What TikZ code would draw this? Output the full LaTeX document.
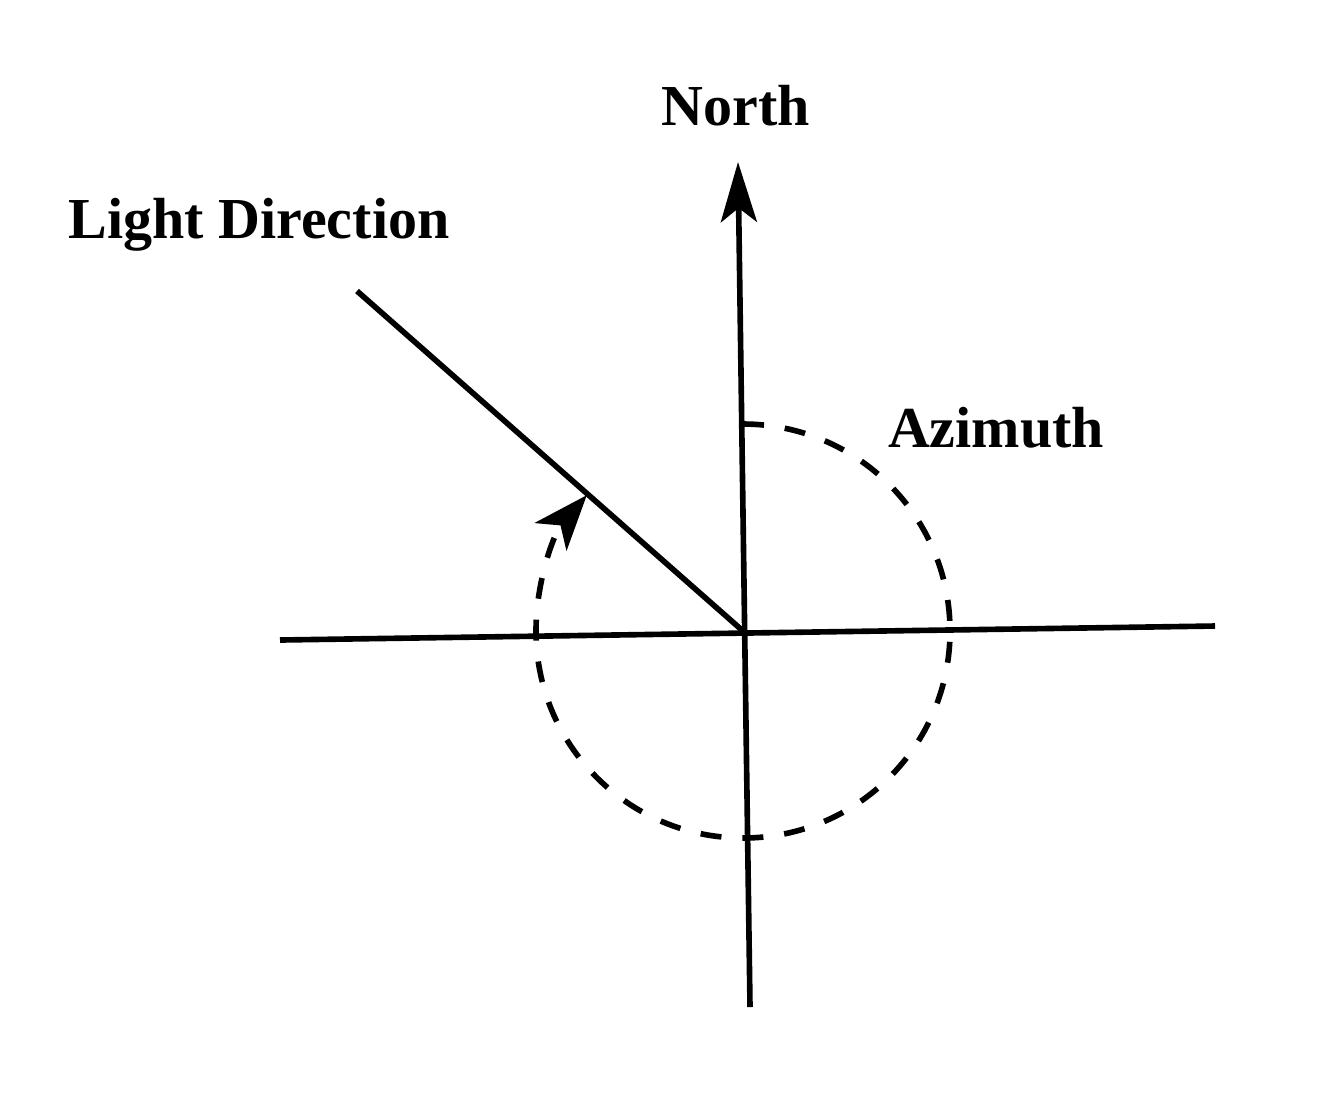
\documentclass[tikz,border=0pt]{standalone}
\usepackage{fontspec}
\setmainfont{Liberation Serif}
\usetikzlibrary{arrows.meta}

\begin{document}
\begin{tikzpicture}[line width=1.6pt,
	lbl/.style={font=\fontsize{16.5}{19}\selectfont\bfseries},
	azi/.style={dash pattern=on 2.1mm off 2.1mm}]
	\useasboundingbox (0,0) rectangle (13.23,-11.19);

	\coordinate (o) at (7.43, -6.31);
	\coordinate (w) at (2.80, -6.40);
	\coordinate (e) at (12.15, -6.26);
	\coordinate (n) at (7.38, -1.62);
	\coordinate (s) at (7.50, -10.07);
	\coordinate (l) at (3.57, -2.91);
	\coordinate (t) at (7.43, -4.24);

	\node[lbl] (north) at (7.36, -1.06) {North};
	\node[lbl] (light) at (2.59, -2.25) {Light Direction};
	\node[lbl] (azimuth) at (9.96, -4.28) {Azimuth};

	\path[-] (w) edge (e);
	\draw[-{Stealth[length=6mm,width=3.6mm,inset=1.4mm]}] (s) -- (n);
	\path[-] (o) edge (l);
	\draw[azi,-{Stealth[length=5.5mm,width=4.2mm,inset=1.5mm]}] (t) arc[start angle=90, end angle=-221, radius=2.07];

\end{tikzpicture}
\end{document}
